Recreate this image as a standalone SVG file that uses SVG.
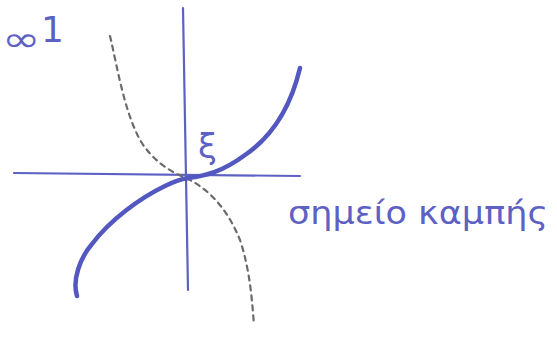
<svg xmlns="http://www.w3.org/2000/svg" width="557" height="337" viewBox="0 0 557 337">
<style>
.ax{stroke:#5d61c4;stroke-width:2.2;fill:none;stroke-linecap:round}
.cv{stroke:#5357c0;stroke-width:4.5;fill:none;stroke-linecap:round;stroke-linejoin:round}
.ds{stroke:#6a6a6a;stroke-width:2.2;fill:none;stroke-dasharray:5 5;stroke-linecap:round}
.t{fill:#5d61c4;font-family:"DejaVu Sans","Noto Sans",sans-serif}
</style>
<rect width="557" height="337" fill="#ffffff"/>
<g id="axes">
<path class="ax" d="M14 173 L300 176"/>
<path class="ax" d="M183 8 L188 290"/>
</g>
<g id="connectors">
<path class="ds" d="M110 36 C118 70 124 110 140 140 C152 160 170 172 188 179 C210 190 228 210 240 240 C250 270 252 300 254 325"/>
<path class="cv" d="M77 296 C72 280 80 258 92 244 C110 220 140 198 165 186 C175 181 182 179 188 178 C205 176 222 172 245 155 C270 138 290 110 300 68"/>
</g>
<g id="labels">
<text class="t" x="0" y="0" font-size="46" transform="translate(2,51) scale(1,0.75)">∞</text>
<text class="t" x="41" y="42" font-size="36">1</text>
<text class="t" x="198" y="158" font-size="34">ξ</text>
<text class="t" x="288" y="224" font-size="32" textLength="260" lengthAdjust="spacingAndGlyphs">σημείο καμπής</text>
</g>
</svg>
